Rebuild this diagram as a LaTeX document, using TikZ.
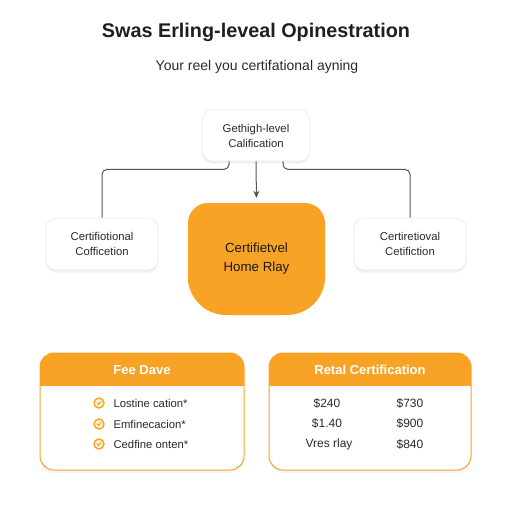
\documentclass[tikz,border=0pt]{standalone}
\usepackage{fontspec}
\setmainfont{Liberation Sans}
\usetikzlibrary{arrows.meta}
\definecolor{orangec}{HTML}{F8A326}
\definecolor{lin}{HTML}{555555}
\definecolor{txt}{HTML}{2A2A2A}
\definecolor{boxline}{HTML}{F1EDE2}
\definecolor{iconfill}{HTML}{FFF3D6}
\begin{document}
\begin{tikzpicture}[x=1pt,y=-1pt,
  shd/.style={preaction={fill=black,opacity=0.035,transform canvas={yshift=-3pt}},
              preaction={fill=black,opacity=0.03,transform canvas={yshift=-1.5pt}}},
  box/.style={shd,draw=boxline,line width=0.8pt,fill=white,rounded corners=10pt,
              minimum width=112pt,minimum height=52pt,align=center,
              font=\fontsize{11.3}{15}\selectfont,text=txt},
  conn/.style={draw=lin,line width=1pt,rounded corners=5pt},
  hdr/.style={font=\bfseries\fontsize{13}{15}\selectfont,text=white},
  item/.style={anchor=west,font=\fontsize{11.3}{13}\selectfont,text=txt},
  cell/.style={font=\fontsize{12}{14}\selectfont,text=txt},
  icon/.style={circle,draw=orangec,line width=1.4pt,fill=iconfill,inner sep=0pt,minimum size=10pt},
]
\useasboundingbox (0,0) rectangle (512,512);
\fill[white] (0,0) rectangle (512,512);

% titles
\node[font=\bfseries\fontsize{19.8}{24}\selectfont,text=black!88] (title) at (256,32) {Swas Erling-leveal Opinestration};
\node[font=\fontsize{14}{17}\selectfont,text=txt] (subtitle) at (257,67) {Your reel you certifational ayning};

% boxes
\node[box,minimum width=108pt,minimum height=51pt] (top) at (256,135.5) {Gethigh-level\\Calification};
\node[box] (left) at (102,244) {Certifiotional\\Cofficetion};
\node[box] (right) at (410,244) {Certiretioval\\Cetifiction};

% orange node
\fill[orangec,rounded corners=20pt] (188,260) -- (188,203) -- (325,203) -- (325,260)
   [rounded corners=38pt] -- (325,315) -- (188,315) -- cycle;
\node[minimum width=137pt,minimum height=112pt,align=center,
      font=\fontsize{13.3}{19}\selectfont,text=black!90] (mid) at (256.5,259) {Certifietvel\\Home Rlay};

% connectors
\draw[conn,-{Stealth[length=7pt,width=6pt]},shorten >=5pt] (top.south) -- (mid.north);
\draw[conn] ([xshift=-27pt]top.south) -- ++(0,8) -| (left.north);
\draw[conn] ([xshift=27pt]top.south) -- ++(0,8) -| (right.north);

% left card
\fill[black,opacity=0.04,rounded corners=14pt] (40,356) rectangle (244,473);
\begin{scope}
\path[clip,rounded corners=14pt] (40,353) rectangle (244,470);
\fill[white] (40,353) rectangle (244,470);
\fill[orangec] (40,353) rectangle (244,386);
\end{scope}
\draw[orangec,line width=1pt,rounded corners=14pt] (40,353) rectangle (244,470);
\node[hdr] (feehdr) at (142,370) {Fee Dave};
\foreach \y/\t/\n in {403/Lostine cation*/a, 424/Emfinecacion*/b, 444/Cedfine onten*/c}{
  \node[icon] (ic\n) at (99,\y) {};
  \draw[orangec,line width=1pt,line cap=round] ([shift={(-1.8pt,0.3pt)}]ic\n.center) -- ([shift={(-0.4pt,-1.5pt)}]ic\n.center) -- ([shift={(2pt,1.8pt)}]ic\n.center);
  \node[item] (it\n) at (110,\y) {\t};
}

% right card
\fill[black,opacity=0.04,rounded corners=14pt] (269,356) rectangle (471,473);
\begin{scope}
\path[clip,rounded corners=14pt] (269,353) rectangle (471,470);
\fill[white] (269,353) rectangle (471,470);
\fill[orangec] (269,353) rectangle (471,386);
\end{scope}
\draw[orangec,line width=1pt,rounded corners=14pt] (269,353) rectangle (471,470);
\node[hdr] (rethdr) at (370,370) {Retal Certification};
\node[cell] (c11) at (327,403) {\$240};
\node[cell] (c12) at (410,403) {\$730};
\node[cell] (c21) at (327,423) {\$1.40};
\node[cell] (c22) at (410,423) {\$900};
\node[cell] (c31) at (329,444) {Vres rlay};
\node[cell] (c32) at (410,444) {\$840};
\end{tikzpicture}
\end{document}
